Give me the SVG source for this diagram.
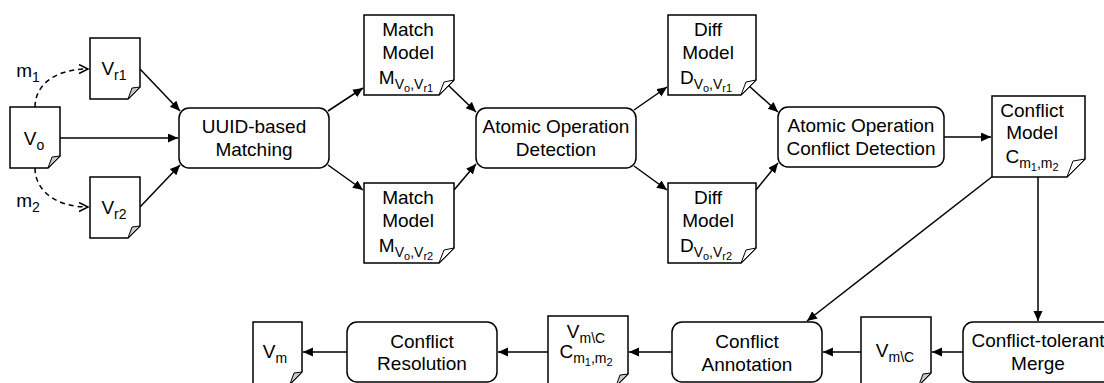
<svg xmlns="http://www.w3.org/2000/svg" width="1104" height="383" viewBox="0 0 1104 383">
<defs>
<style>
.n{fill:#fff;stroke:#000;stroke-width:1.5}
.t{font-family:"Liberation Sans",Arial,sans-serif;font-size:19px;fill:#000;text-anchor:middle}
.s{font-size:14px}
.ss{font-size:11px}
.c{fill:none;stroke:#000;stroke-width:1.5;marker-end:url(#a)}
.d{fill:none;stroke:#000;stroke-width:1.5;stroke-dasharray:5 4;marker-end:url(#o)}
.g{fill:#c8c8c8;stroke:#000;stroke-width:1}
.w{fill:#fff;stroke:#000;stroke-width:1}
</style>
<marker id="a" markerWidth="12" markerHeight="10" refX="10" refY="4.5" orient="auto" markerUnits="userSpaceOnUse"><path d="M0,0 L10,4.5 L0,9 Z" fill="#000"/></marker>
<marker id="o" markerWidth="12" markerHeight="12" refX="10" refY="5" orient="auto" markerUnits="userSpaceOnUse"><path d="M1,0.5 L10,5 L1,9.5" fill="none" stroke="#000" stroke-width="1.5"/></marker>
</defs>
<rect width="1104" height="383" fill="#fff"/>

<g id="connectors">
<path class="d" d="M35,107 C35,85 55,69 88,69"/>
<path class="d" d="M35,168 C35,190 55,207 88,207"/>
<path class="c" d="M140,69 L180,111"/>
<path class="c" d="M60,138 L178,138"/>
<path class="c" d="M140,207 L180,165"/>
<path class="c" d="M328,111 L363,88"/>
<path class="c" d="M328,165 L363,190"/>
<path class="c" d="M448,85 L476,112"/>
<path class="c" d="M454,190 L476,164"/>
<path class="c" d="M634,110 L667,87"/>
<path class="c" d="M634,166 L667,190"/>
<path class="c" d="M748,85 L778,112"/>
<path class="c" d="M756,190 L778,163"/>
<path class="c" d="M944,137 L991,137"/>
<path class="c" d="M993,176 L807,321"/>
<path class="c" d="M1038,177 L1038,321"/>
<path class="c" d="M963,352 L932,352"/>
<path class="c" d="M861,352 L823,352"/>
<path class="c" d="M672,352 L629,352"/>
<path class="c" d="M548,352 L498,352"/>
<path class="c" d="M347,352 L303,352"/>
</g>

<g id="labels">
<text class="t" x="28" y="77">m<tspan class="s" dy="5">1</tspan></text>
<text class="t" x="28" y="207">m<tspan class="s" dy="5">2</tspan></text>
</g>

<g id="vo">
<path class="n" d="M10,107 H60 V156 L48,168 H10 Z"/>
<path class="g" d="M60,156 L52,157 L48,168 Z"/>
<text class="t" x="34" y="145">V<tspan class="s" dy="5">o</tspan></text>
</g>

<g id="vr1">
<path class="n" d="M90,38 H140 V87 L128,99 H90 Z"/>
<path class="g" d="M140,87 L132,88 L128,99 Z"/>
<text class="t" x="114" y="75">V<tspan class="s" dy="5">r1</tspan></text>
</g>

<g id="vr2">
<path class="n" d="M90,177 H140 V226 L128,238 H90 Z"/>
<path class="g" d="M140,226 L132,227 L128,238 Z"/>
<text class="t" x="114" y="214">V<tspan class="s" dy="5">r2</tspan></text>
</g>

<g id="uuid">
<rect class="n" x="179" y="108" width="150" height="60" rx="10"/>
<text class="t" x="254" y="133">UUID-based</text>
<text class="t" x="254" y="156">Matching</text>
</g>

<g id="match1">
<path class="n" d="M364,15 H454 V80 L439,95 H364 Z"/>
<path class="w" d="M454,80 L444,82 L439,95 Z"/>
<text class="t" x="408" y="36">Match</text>
<text class="t" x="408" y="59">Model</text>
<text class="t" x="406" y="84">M<tspan class="s" dy="5">V</tspan><tspan class="ss" dy="3">o</tspan><tspan class="s" dy="-3">,V</tspan><tspan class="ss" dy="3">r1</tspan></text>
</g>

<g id="match2">
<path class="n" d="M364,183 H454 V248 L439,263 H364 Z"/>
<path class="w" d="M454,248 L444,250 L439,263 Z"/>
<text class="t" x="408" y="204">Match</text>
<text class="t" x="408" y="227">Model</text>
<text class="t" x="406" y="252">M<tspan class="s" dy="5">V</tspan><tspan class="ss" dy="3">o</tspan><tspan class="s" dy="-3">,V</tspan><tspan class="ss" dy="3">r2</tspan></text>
</g>

<g id="aod">
<rect class="n" x="476" y="108" width="160" height="60" rx="10"/>
<text class="t" x="556" y="133">Atomic Operation</text>
<text class="t" x="556" y="156">Detection</text>
</g>

<g id="diff1">
<path class="n" d="M668,15 H756 V80 L741,95 H668 Z"/>
<path class="w" d="M756,80 L746,82 L741,95 Z"/>
<text class="t" x="708" y="36">Diff</text>
<text class="t" x="708" y="59">Model</text>
<text class="t" x="706" y="84">D<tspan class="s" dy="5">V</tspan><tspan class="ss" dy="3">o</tspan><tspan class="s" dy="-3">,V</tspan><tspan class="ss" dy="3">r1</tspan></text>
</g>

<g id="diff2">
<path class="n" d="M668,183 H756 V248 L741,263 H668 Z"/>
<path class="w" d="M756,248 L746,250 L741,263 Z"/>
<text class="t" x="708" y="204">Diff</text>
<text class="t" x="708" y="227">Model</text>
<text class="t" x="706" y="252">D<tspan class="s" dy="5">V</tspan><tspan class="ss" dy="3">o</tspan><tspan class="s" dy="-3">,V</tspan><tspan class="ss" dy="3">r2</tspan></text>
</g>

<g id="aocd">
<rect class="n" x="778" y="107" width="166" height="60" rx="10"/>
<text class="t" x="861" y="132">Atomic Operation</text>
<text class="t" x="861" y="155">Conflict Detection</text>
</g>

<g id="conflictmodel">
<path class="n" d="M992,96 H1085 V159 L1067,177 H992 Z"/>
<path class="w" d="M1085,159 L1073,161 L1067,177 Z"/>
<text class="t" x="1032" y="117">Conflict</text>
<text class="t" x="1032" y="139">Model</text>
<text class="t" x="1032" y="163">C<tspan class="s" dy="5">m</tspan><tspan class="ss" dy="3">1</tspan><tspan class="s" dy="-3">,m</tspan><tspan class="ss" dy="3">2</tspan></text>
</g>

<g id="merge">
<rect class="n" x="963" y="322" width="150" height="60" rx="10"/>
<text class="t" x="1038" y="347">Conflict-tolerant</text>
<text class="t" x="1038" y="370">Merge</text>
</g>

<g id="vmc">
<path class="n" d="M861,317 H931 V373 L919,385 H861 Z"/>
<path class="g" d="M931,373 L923,374 L919,385 Z"/>
<text class="t" x="895" y="357">V<tspan class="s" dy="5">m\C</tspan></text>
</g>

<g id="annotation">
<rect class="n" x="672" y="322" width="150" height="60" rx="10"/>
<text class="t" x="747" y="348">Conflict</text>
<text class="t" x="747" y="371">Annotation</text>
</g>

<g id="vmcc">
<path class="n" d="M548,316 H628 V374 L616,386 H548 Z"/>
<path class="g" d="M628,374 L620,375 L616,386 Z"/>
<text class="t" x="586" y="338">V<tspan class="s" dy="5">m\C</tspan></text>
<text class="t" x="586" y="358">C<tspan class="s" dy="5">m</tspan><tspan class="ss" dy="3">1</tspan><tspan class="s" dy="-3">,m</tspan><tspan class="ss" dy="3">2</tspan></text>
</g>

<g id="resolution">
<rect class="n" x="347" y="322" width="150" height="60" rx="10"/>
<text class="t" x="422" y="348">Conflict</text>
<text class="t" x="422" y="370">Resolution</text>
</g>

<g id="vm">
<path class="n" d="M253,322 H302 V372 L290,384 H253 Z"/>
<path class="g" d="M302,372 L294,373 L290,384 Z"/>
<text class="t" x="275" y="358">V<tspan class="s" dy="5">m</tspan></text>
</g>
</svg>
